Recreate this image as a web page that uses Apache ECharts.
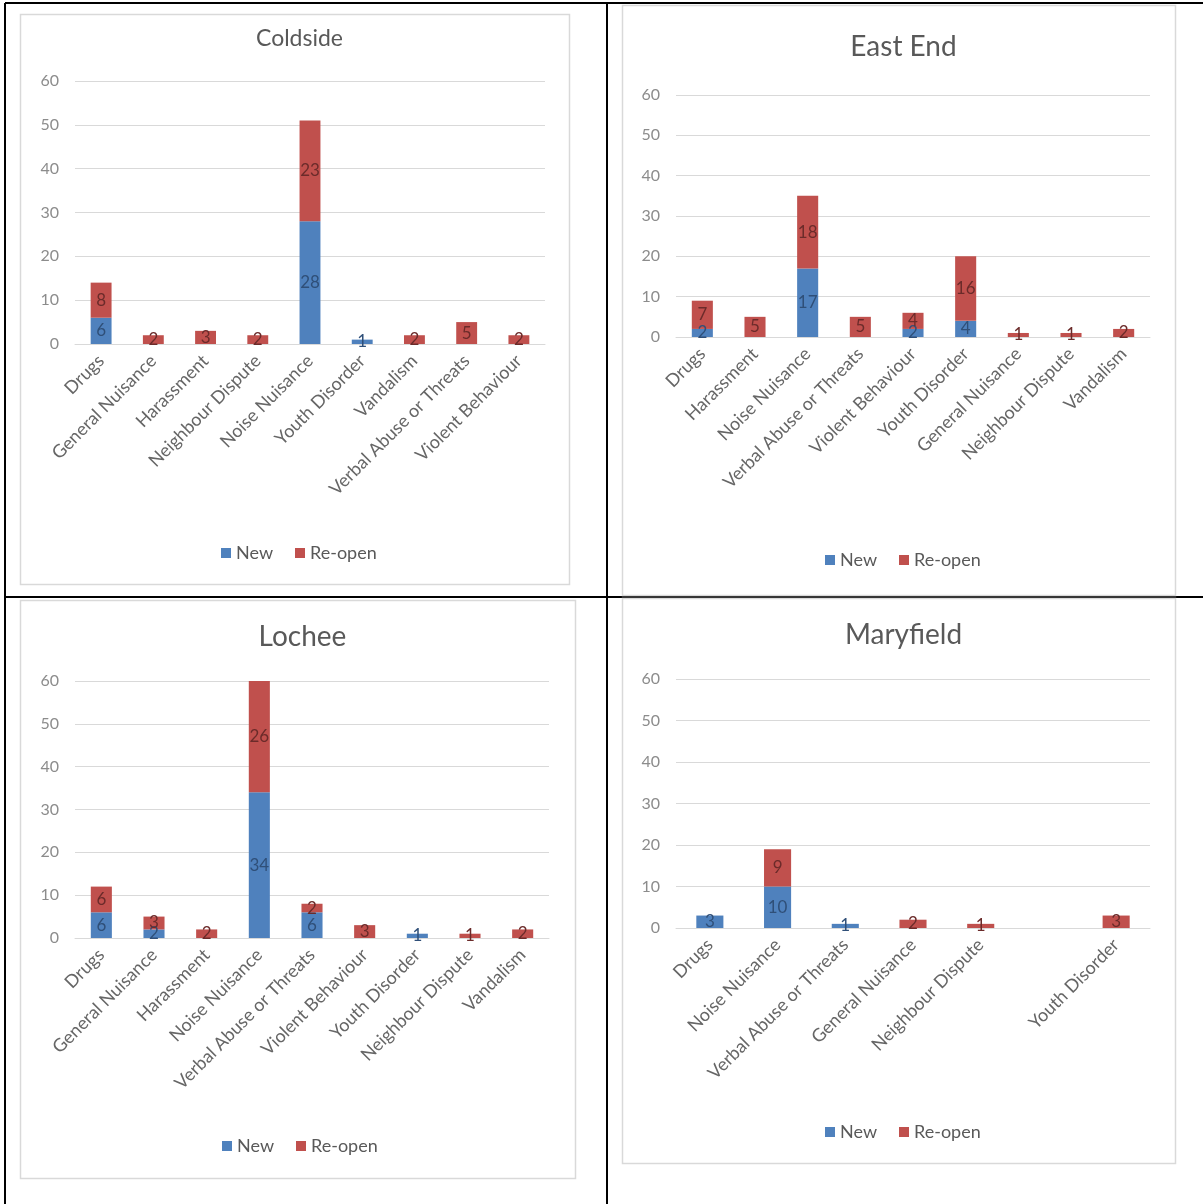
<!DOCTYPE html>
<html><head><meta charset="utf-8">
<script src="https://cdn.jsdelivr.net/npm/echarts@6/dist/echarts.min.js"></script>
<style>html,body{margin:0;padding:0;background:#fff}#c{width:1203px;height:1204px}</style>
</head><body><div id="c"></div>
<script>
// ---- data ----
const yTicks = [0, 10, 20, 30, 40, 50, 60];

const coldsideTitle = 'Coldside';
const coldsideCats = ['Drugs','General Nuisance','Harassment','Neighbour Dispute','Noise Nuisance','Youth Disorder','Vandalism','Verbal Abuse or Threats','Violent Behaviour'];
const coldsideNew = [6, 0, 0, 0, 28, 1, 0, 0, 0];
const coldsideReopen = [8, 2, 3, 2, 23, 0, 2, 5, 2];

const eastEndTitle = 'East End';
const eastEndCats = ['Drugs','Harassment','Noise Nuisance','Verbal Abuse or Threats','Violent Behaviour','Youth Disorder','General Nuisance','Neighbour Dispute','Vandalism'];
const eastEndNew = [2, 0, 17, 0, 2, 4, 0, 0, 0];
const eastEndReopen = [7, 5, 18, 5, 4, 16, 1, 1, 2];

const locheeTitle = 'Lochee';
const locheeCats = ['Drugs','General Nuisance','Harassment','Noise Nuisance','Verbal Abuse or Threats','Violent Behaviour','Youth Disorder','Neighbour Dispute','Vandalism'];
const locheeNew = [6, 2, 0, 34, 6, 0, 1, 0, 0];
const locheeReopen = [6, 3, 2, 26, 2, 3, 0, 1, 2];

const maryfieldTitle = 'Maryfield';
const maryfieldCats = ['Drugs','Noise Nuisance','Verbal Abuse or Threats','General Nuisance','Neighbour Dispute','','Youth Disorder'];
const maryfieldNew = [3, 10, 1, 0, 0, 0, 0];
const maryfieldReopen = [0, 9, 0, 2, 1, 0, 3];

// ---- layout / style ----
const FONT = 'Lato, "Open Sans", sans-serif';
const BLUE = '#4F81BD', RED = '#C0504D';
const panels = [
  {title: coldsideTitle, cats: coldsideCats, n: coldsideNew, r: coldsideReopen,
   box: [20, 14, 549, 570], grid: {left: 75, top: 81, width: 470, height: 263}, titleTop: 22, titleSize: 23, legendLeft: 221, legendTop: 544},
  {title: eastEndTitle, cats: eastEndCats, n: eastEndNew, r: eastEndReopen,
   box: [622, 5, 553, 590], grid: {left: 676, top: 95, width: 474, height: 242}, titleTop: 28, titleSize: 28, legendLeft: 825, legendTop: 551},
  {title: locheeTitle, cats: locheeCats, n: locheeNew, r: locheeReopen,
   box: [20, 600, 555, 578], grid: {left: 75, top: 681, width: 474, height: 257}, titleTop: 618, titleSize: 28, legendLeft: 222, legendTop: 1137},
  {title: maryfieldTitle, cats: maryfieldCats, n: maryfieldNew, r: maryfieldReopen,
   box: [622, 598, 553, 565], grid: {left: 676, top: 679, width: 474, height: 249}, titleTop: 616, titleSize: 28, legendLeft: 825, legendTop: 1123}
];

const option = {
  backgroundColor: '#fff',
  animation: false,
  textStyle: {fontFamily: FONT},
  title: [], legend: [], grid: [], xAxis: [], yAxis: [], series: [],
  graphic: {elements: []}
};

// table lines
const lineStyle = {stroke: '#000', lineWidth: 2};
[[5, 3, 5, 1204], [607, 3, 607, 1204], [5, 3, 1203, 3], [5, 597, 1203, 597]].forEach(s => {
  option.graphic.elements.push({type: 'line', z: -20, shape: {x1: s[0], y1: s[1], x2: s[2], y2: s[3]}, style: lineStyle, silent: true});
});

const lbl = (c) => ({
  show: true, position: 'inside', fontSize: 17, fontFamily: FONT, color: c,
  formatter: p => (p.value > 0 ? p.value : '')
});

panels.forEach((p, i) => {
  const [bx, by, bw, bh] = p.box;
  option.graphic.elements.push({type: 'rect', z: -10, shape: {x: bx + 0.5, y: by + 0.5, width: bw, height: bh},
    style: {fill: '#fff', stroke: '#d9d9d9', lineWidth: 1.5}, silent: true});
  const cx = bx + bw / 2;
  option.title.push({text: p.title, left: cx, top: p.titleTop, textAlign: 'center',
    textStyle: {fontFamily: FONT, fontSize: p.titleSize, fontWeight: 'normal', color: '#595959'}});
  option.legend.push({data: ['New', 'Re-open'], left: p.legendLeft, top: p.legendTop,
    icon: 'rect', itemWidth: 10, itemHeight: 10, itemGap: 22, padding: 0,
    textStyle: {fontFamily: FONT, fontSize: 18, color: '#595959'}});
  option.grid.push(Object.assign({containLabel: false}, p.grid));
  option.xAxis.push({type: 'category', gridIndex: i, data: p.cats,
    axisLine: {lineStyle: {color: '#d9d9d9', width: 1}}, axisTick: {show: false},
    axisLabel: {rotate: 45, interval: 0, fontFamily: FONT, fontSize: 18, color: '#666666', margin: 14}});
  option.yAxis.push({type: 'value', gridIndex: i, min: yTicks[0], max: yTicks[yTicks.length - 1], interval: 10,
    axisLine: {show: false}, axisTick: {show: false},
    splitLine: {lineStyle: {color: '#d9d9d9', width: 1}},
    axisLabel: {fontFamily: FONT, fontSize: 16, color: '#8c8c8c', margin: 16}});
  option.series.push({name: 'New', type: 'bar', stack: 's' + i, xAxisIndex: i, yAxisIndex: i,
    data: p.n, barWidth: '40%', itemStyle: {color: BLUE}, label: lbl('#2f4f78')});
  option.series.push({name: 'Re-open', type: 'bar', stack: 's' + i, xAxisIndex: i, yAxisIndex: i,
    data: p.r, barWidth: '40%', itemStyle: {color: RED}, label: lbl('#6b2b2a')});
});

const chart = echarts.init(document.getElementById('c'), null, {renderer: 'canvas'});
chart.setOption(option);
</script></body></html>
